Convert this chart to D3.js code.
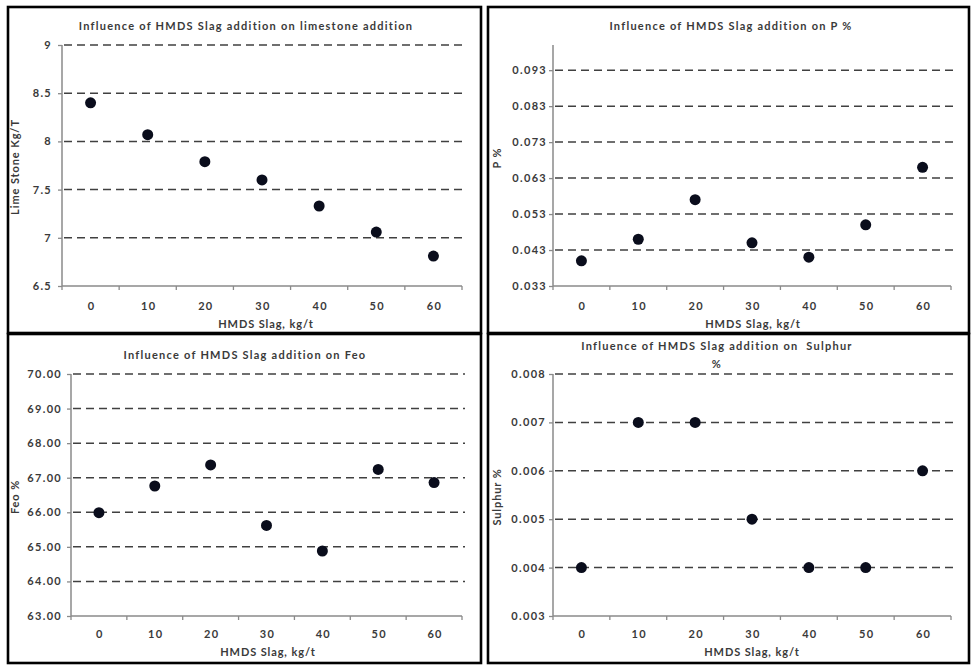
<!DOCTYPE html>
<html>
<head>
<meta charset="utf-8">
<script src="https://cdn.jsdelivr.net/npm/d3@7/dist/d3.min.js"></script>
<style>
  html, body { margin: 0; padding: 0; background: #fff; }
  svg { display: block; }
  text { font-family: Lato, "Open Sans", sans-serif; font-weight: bold; fill: #3a3a3a; }
</style>
</head>
<body>
<svg id="chart" width="971" height="666"></svg>
<script>
// ---- data ----
const categories = ["0", "10", "20", "30", "40", "50", "60"];
const limestone = [8.40, 8.07, 7.79, 7.60, 7.33, 7.06, 6.81];
const phosphorus = [0.040, 0.046, 0.057, 0.045, 0.041, 0.050, 0.066];
const feo = [65.99, 66.76, 67.37, 65.62, 64.88, 67.24, 66.86];
const sulphur = [0.004, 0.007, 0.007, 0.005, 0.004, 0.004, 0.006];

const limeTicks = [6.5, 7, 7.5, 8, 8.5, 9];
const pTicks = [0.033, 0.043, 0.053, 0.063, 0.073, 0.083, 0.093];
const feoTicks = [63, 64, 65, 66, 67, 68, 69, 70];
const sTicks = [0.003, 0.004, 0.005, 0.006, 0.007, 0.008];

const titles = [
  ["Influence of HMDS Slag addition on limestone addition"],
  ["Influence of HMDS Slag addition on P %"],
  ["Influence of HMDS Slag addition on Feo"],
  ["Influence of HMDS Slag addition on  Sulphur", "%"]
];
const yLabels = ["Lime Stone Kg/T", "P %", "Feo %", "Sulphur %"];
const xLabel = "HMDS Slag, kg/t";

// ---- layout ----
const panels = [
  { values: limestone, ticks: limeTicks, domain: [6.5, 9], fmt: d => String(d),
    box: [8, 7, 481, 333], plot: [62, 462, 45, 286],
    titleX: 246, titleY: 27, yLabX: 16, yLabY: 167, xLabX: 266, xLabY: 325, xTickY: 307, yTickGap: 10 },
  { values: phosphorus, ticks: pTicks, domain: [0.033, 0.1], fmt: d3.format(".3f"),
    box: [488, 7, 969, 333], plot: [553, 951, 45, 286],
    titleX: 731, titleY: 27, yLabX: 498, yLabY: 158, xLabX: 753, xLabY: 325, xTickY: 307, yTickGap: 6 },
  { values: feo, ticks: feoTicks, domain: [63, 70], fmt: d3.format(".2f"),
    box: [8, 334, 481, 663], plot: [71, 462, 374, 616],
    titleX: 245, titleY: 356, yLabX: 16, yLabY: 497, xLabX: 268, xLabY: 653, xTickY: 635, yTickGap: 9 },
  { values: sulphur, ticks: sTicks, domain: [0.003, 0.008], fmt: d3.format(".3f"),
    box: [488, 334, 969, 663], plot: [553, 951, 374, 616],
    titleX: 717, titleY: 347, yLabX: 498, yLabY: 497, xLabX: 752, xLabY: 653, xTickY: 635, yTickGap: 7 }
];

const svg = d3.select("#chart");

panels.forEach((p, i) => {
  const g = svg.append("g");
  const [bx0, by0, bx1, by1] = p.box;
  const [px0, px1, py0, py1] = p.plot;

  // panel frame
  g.append("rect")
    .attr("x", bx0).attr("y", by0)
    .attr("width", bx1 - bx0).attr("height", by1 - by0)
    .attr("fill", "#fff").attr("stroke", "#000").attr("stroke-width", 2.6);

  const x = d3.scaleBand().domain(categories).range([px0, px1]);
  const y = d3.scaleLinear().domain(p.domain).range([py1, py0]);

  // gridlines (dashed)
  g.append("g").selectAll("line")
    .data(p.ticks.filter(t => t !== p.domain[0]))
    .join("line")
    .attr("x1", px0 + 2).attr("x2", px1 + 3)
    .attr("y1", d => y(d)).attr("y2", d => y(d))
    .attr("stroke", "#404040").attr("stroke-width", 1.5)
    .attr("stroke-dasharray", "8,5");

  // y axis
  const yAxis = d3.axisLeft(y).tickValues(p.ticks).tickFormat(p.fmt).tickSize(4).tickPadding(p.yTickGap - 4);
  const ya = g.append("g").attr("transform", `translate(${px0},0)`).call(yAxis);
  ya.select(".domain").attr("stroke", "#8a8a8a").attr("stroke-width", 1.5)
    .attr("d", `M0,${py0}V${py1}`);
  ya.selectAll(".tick line").attr("stroke", "#8a8a8a").attr("stroke-width", 1.3);
  ya.selectAll(".tick text").attr("font-size", 11).attr("font-family", "Lato, sans-serif")
    .attr("font-weight", "bold").attr("fill", "#3a3a3a").attr("letter-spacing", 1.3);

  // x axis (category boundaries as ticks)
  const xa = g.append("g").attr("transform", `translate(0,${py1})`);
  xa.append("line").attr("x1", px0).attr("x2", px1).attr("y1", 0).attr("y2", 0)
    .attr("stroke", "#8a8a8a").attr("stroke-width", 1.5);
  const bounds = categories.map(c => x(c)).concat([x(categories[categories.length - 1]) + x.bandwidth()]);
  xa.selectAll("line.tk").data(bounds).join("line").attr("class", "tk")
    .attr("x1", d => d).attr("x2", d => d).attr("y1", 0).attr("y2", 4)
    .attr("stroke", "#8a8a8a").attr("stroke-width", 1.3);
  g.append("g").selectAll("text").data(categories).join("text")
    .attr("x", d => x(d) + x.bandwidth() / 2 + 1)
    .attr("y", p.xTickY)
    .attr("text-anchor", "middle").attr("dominant-baseline", "middle")
    .attr("font-size", 11).attr("letter-spacing", 1.3)
    .text(d => d);

  // points
  g.append("g").selectAll("circle").data(p.values).join("circle")
    .attr("cx", (d, j) => x(categories[j]) + x.bandwidth() / 2)
    .attr("cy", d => y(d))
    .attr("r", 5.5)
    .attr("fill", "#0a0d1c");

  // title
  const t = g.append("text").attr("text-anchor", "middle").attr("font-size", 11)
    .attr("letter-spacing", 1.25);
  titles[i].forEach((line, k) => {
    t.append("tspan").attr("x", p.titleX).attr("y", p.titleY + k * 18)
      .attr("dominant-baseline", "middle").attr("xml:space", "preserve").text(line);
  });

  // axis titles
  g.append("text")
    .attr("transform", `translate(${p.yLabX},${p.yLabY}) rotate(-90)`)
    .attr("text-anchor", "middle").attr("dominant-baseline", "middle")
    .attr("font-size", 11).attr("letter-spacing", 0.9).text(yLabels[i]);
  g.append("text")
    .attr("x", p.xLabX).attr("y", p.xLabY)
    .attr("text-anchor", "middle").attr("dominant-baseline", "middle")
    .attr("font-size", 11).attr("letter-spacing", 0.9).text(xLabel);
});
</script>
</body>
</html>
